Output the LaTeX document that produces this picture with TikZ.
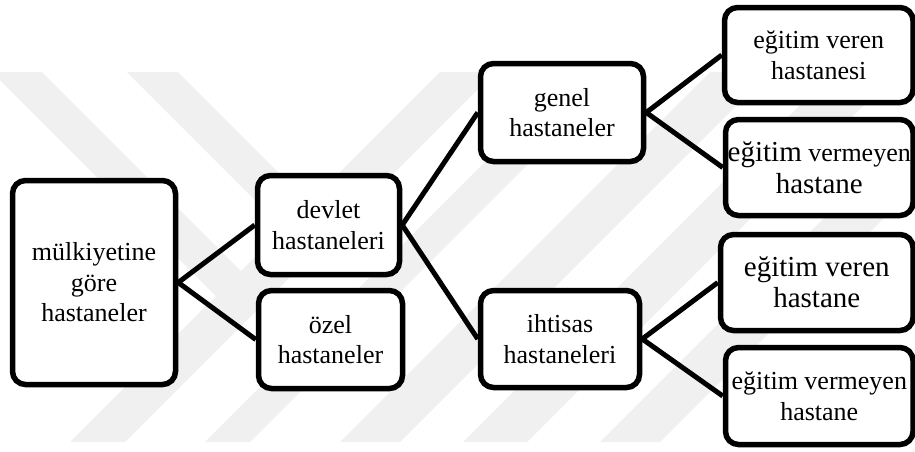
\documentclass[tikz,border=0pt]{standalone}
\usepackage{fontspec}
\setmainfont{Liberation Serif}
\definecolor{wm}{RGB}{240,240,240}
\begin{document}
\begin{tikzpicture}[x=1pt,y=-1pt,
  box/.style={draw=black, line width=5.5pt, rounded corners=13pt, fill=white,
    align=center, inner sep=0pt, font=\fontsize{26}{30.5}\selectfont},
  link/.style={line width=5pt},
  band/.style={fill=wm, draw=none}]
\useasboundingbox (0,0) rectangle (915,451);
\fill[white] (0,0) rectangle (915,451);

% faint diagonal background bands
\begin{scope}
  \clip (0,72) rectangle (915,442);
  \fill[band] (-8,72) -- (42,72) -- (255,285) -- (230,310) -- cycle;
  \fill[band] (127,72) -- (178,72) -- (323,217) -- (297.5,242.5) -- cycle;
  \foreach \ca/\cb in {512/567, 647/692, 782/842, 905/969, 1042/1102}{
    \fill[band] (\ca-72,72) -- (\cb-72,72) -- (\cb-442,442) -- (\ca-442,442) -- cycle;
  }
\end{scope}

% boxes
\node[box, minimum width=163pt, minimum height=204pt] (mulk) at (94,282.5)
  {mülkiyetine\\göre\\hastaneler};
\node[box, minimum width=142pt, minimum height=99pt] (devlet) at (328.5,225)
  {devlet\\hastaneleri};
\node[box, minimum width=144pt, minimum height=98pt] (ozel) at (330.5,339.5)
  {özel\\hastaneler};
\node[box, minimum width=163pt, minimum height=98pt] (genel) at (562,112.5)
  {genel\\hastaneler};
\node[box, minimum width=159pt, minimum height=97pt] (ihtisas) at (560,339)
  {ihtisas\\hastaneleri};
\node[box, minimum width=188.5pt, minimum height=95pt] (gv) at (818.75,55)
  {eğitim veren\\hastanesi};
\node[box, minimum width=187.5pt, minimum height=96pt] (gn) at (819.25,167.5)
  {{\fontsize{29}{32}\selectfont eğitim} vermeyen\\[2pt]{\fontsize{29}{32}\selectfont hastane}};
\node[box, minimum width=192.5pt, minimum height=96pt,
  font=\fontsize{29}{31}\selectfont] (iv) at (816.75,282.5)
  {eğitim veren\\hastane};
\node[box, minimum width=187.5pt, minimum height=97pt] (in) at (819.25,396)
  {eğitim vermeyen\\hastane};

% connectors
\draw[link] (mulk.east) -- (devlet.west);
\draw[link] (mulk.east) -- (ozel.west);
\draw[link] (devlet.east) -- (genel.west);
\draw[link] (devlet.east) -- (ihtisas.west);
\draw[link] (genel.east) -- (gv.west);
\draw[link] (genel.east) -- (gn.west);
\draw[link] (ihtisas.east) -- (iv.west);
\draw[link] (ihtisas.east) -- (in.west);
\end{tikzpicture}
\end{document}
